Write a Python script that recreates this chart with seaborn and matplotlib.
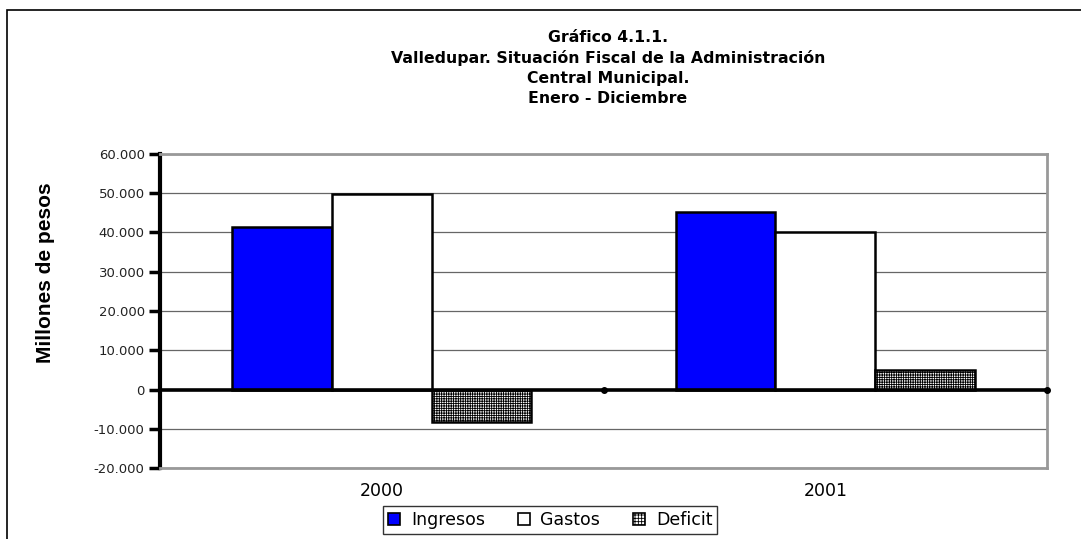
import seaborn as sns
import matplotlib.pyplot as plt
import matplotlib.patches as mpatches
import pandas as pd
from matplotlib.ticker import FuncFormatter

# datos (millones de pesos)
anios = ["2000", "2001"]
series = ["Ingresos", "Gastos", "Deficit"]
ingresos = [41300, 45200]
gastos = [49700, 40200]
deficit = [-8400, 5000]

colores = {"Ingresos": "#0000FF", "Gastos": "white", "Deficit": "white"}

filas = []
for i, a in enumerate(anios):
    filas.append((a, "Ingresos", ingresos[i]))
    filas.append((a, "Gastos", gastos[i]))
    filas.append((a, "Deficit", deficit[i]))
df = pd.DataFrame(filas, columns=["anio", "serie", "valor"])

sns.set_style("white")
plt.rcParams["font.family"] = ["DejaVu Sans"]
plt.rcParams["hatch.linewidth"] = 0.6
plt.rcParams["text.color"] = "black"
plt.rcParams["xtick.color"] = "black"
plt.rcParams["ytick.color"] = "black"

fig = plt.figure(figsize=(10.81, 5.39), dpi=100)
ax = fig.add_axes([0.148, 0.1317, 0.8206, 0.5826])

sns.barplot(data=df, x="anio", y="valor", hue="serie", hue_order=series,
            palette=colores, width=0.675, edgecolor="black", linewidth=1.8,
            saturation=1, legend=False, ax=ax)

# trama del deficit
for p in ax.containers[2]:
    p.set_hatch("+++++++")

ax.set_xlim(-0.5, len(anios) - 0.5)
ax.set_ylim(-20000, 60000)
ax.set_yticks(range(-20000, 60001, 10000))
ax.yaxis.set_major_formatter(FuncFormatter(lambda v, p: f"{v:,.0f}".replace(",", ".")))
ax.grid(axis="y", color="#666666", linewidth=0.9)
ax.set_axisbelow(True)

ax.axhline(0, color="black", linewidth=2.6, zorder=3)
# marcas de categoria sobre el eje en cero
bordes = [i + 0.5 for i in range(len(anios))]
ax.plot(bordes, [0] * len(bordes), "o", color="black", ms=4, clip_on=False, zorder=4)

for s in ["top", "right", "bottom"]:
    ax.spines[s].set_color("#999999")
    ax.spines[s].set_linewidth(2)
ax.spines["left"].set_color("black")
ax.spines["left"].set_linewidth(3)

ax.tick_params(axis="y", direction="out", length=8, width=2.5, color="black",
               labelsize=9.5, labelcolor="#222222", pad=3, left=True)
ax.tick_params(axis="x", length=0, labelsize=12.5, pad=10)
ax.set_xlabel("")
ax.set_ylabel("")

fig.text(0.042, 0.4935, "Millones de pesos", rotation=90, ha="center", va="center",
         fontsize=15, fontweight="bold", family="Liberation Sans")

titulo = ["Gráfico 4.1.1.",
          "Valledupar. Situación Fiscal de la Administración",
          "Central Municipal.",
          "Enero - Diciembre"]
for k, t in enumerate(titulo):
    fig.text(0.5625, 1 - (38 + 20 * k) / 539, t, ha="center", va="center",
             fontsize=11.3, fontweight="bold")

handles = [mpatches.Patch(facecolor=colores[s], edgecolor="black", linewidth=1.2,
                          hatch="+++++" if s == "Deficit" else None) for s in series]
leg = fig.legend(handles, series, loc="center", bbox_to_anchor=(0.509, 0.035), ncol=3,
                 fontsize=12.5, frameon=True, fancybox=False, handlelength=0.7,
                 handleheight=0.7, handletextpad=0.6, columnspacing=1.9,
                 borderpad=0.3, borderaxespad=0.2, edgecolor="black")
leg.get_frame().set_linewidth(1)

# borde exterior del grafico
fig.patches.append(mpatches.Rectangle((0.0065, -0.1), 1.2, 1.1 - 10 / 539, fill=False,
                                      edgecolor="black", linewidth=1.2,
                                      transform=fig.transFigure, figure=fig))

fig.savefig("out.png", dpi=100)
